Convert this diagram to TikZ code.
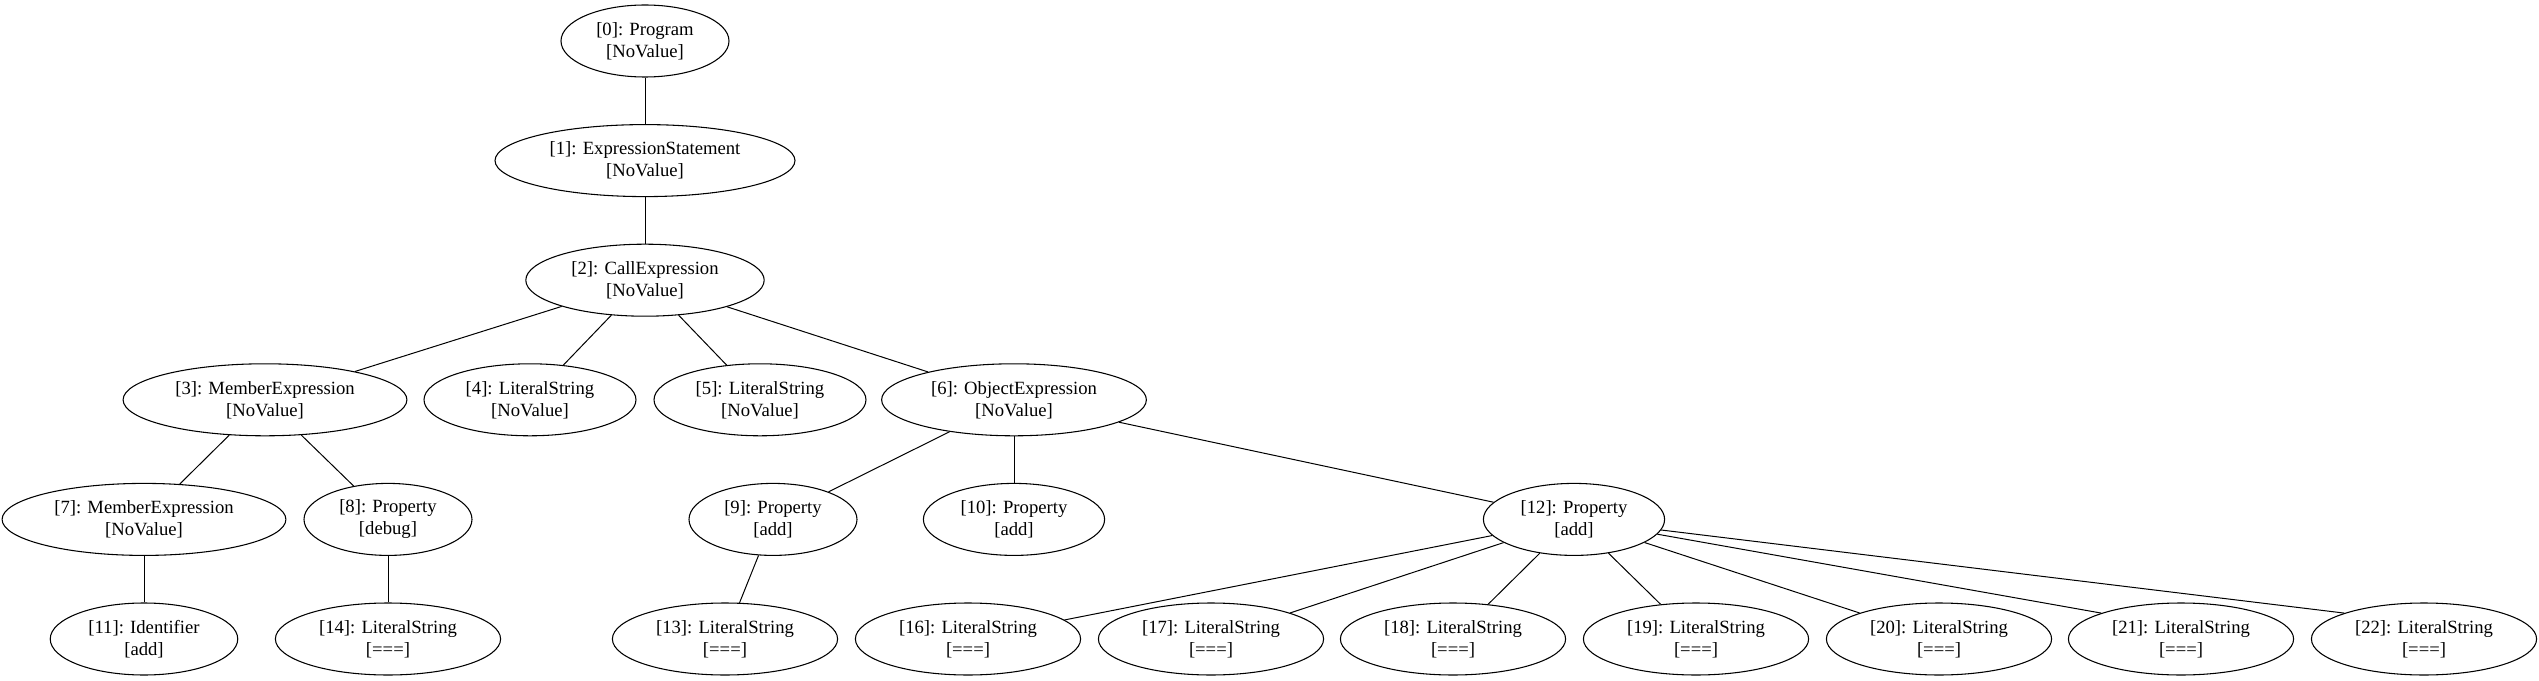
\documentclass[tikz,border=0pt]{standalone}
\usepackage{fontspec}
\setmainfont{Liberation Serif}
\usepackage{tikz}
\usetikzlibrary{shapes.geometric,positioning}

\tikzset{
  ast/.style={draw, ellipse, line width=0.8pt, align=center,
    inner xsep=8pt, inner ysep=3pt, minimum height=54pt,
    font=\fontsize{14pt}{16.5pt}\selectfont}
}

\begin{document}
\begin{tikzpicture}[node distance=89.7pt,on grid,line width=0.75pt]
   \useasboundingbox (0,0) rectangle (1904.25pt,-510.75pt);

   \node[ast] (n0) at (483.75pt,-30.75pt) {[0]: Program\\{}[NoValue]};
   \node[ast] (n1) [below=of n0] {[1]: ExpressionStatement\\{}[NoValue]};
   \node[ast] (n2) [below=of n1] {[2]: CallExpression\\{}[NoValue]};

   \node[ast] (n3) [below=of n2, xshift=-285pt] {[3]: MemberExpression\\{}[NoValue]};
   \node[ast] (n4) [below=of n2, xshift=-86.25pt] {[4]: LiteralString\\{}[NoValue]};
   \node[ast] (n5) [below=of n2, xshift=86.25pt] {[5]: LiteralString\\{}[NoValue]};
   \node[ast] (n6) [below=of n2, xshift=276.75pt] {[6]: ObjectExpression\\{}[NoValue]};

   \node[ast] (n7) [below=of n3, xshift=-90.75pt] {[7]: MemberExpression\\{}[NoValue]};
   \node[ast] (n8) [below=of n3, xshift=92.25pt] {[8]: Property\\{}[debug]};
   \node[ast] (n9) [below=of n6, xshift=-180.75pt] {[9]: Property\\{}[add]};
   \node[ast] (n10) [below=of n6] {[10]: Property\\{}[add]};
   \node[ast] (n12) [below=of n6, xshift=420pt] {[12]: Property\\{}[add]};

   \node[ast] (n11) [below=of n7] {[11]: Identifier\\{}[add]};
   \node[ast] (n14) [below=of n8] {[14]: LiteralString\\{}[===]};
   \node[ast] (n13) [below=of n9, xshift=-36pt] {[13]: LiteralString\\{}[===]};

   \node[ast] (n16) [below=of n12, xshift=-454.5pt] {[16]: LiteralString\\{}[===]};
   \node[ast] (n17) [below=of n12, xshift=-272.25pt] {[17]: LiteralString\\{}[===]};
   \node[ast] (n18) [below=of n12, xshift=-90.75pt] {[18]: LiteralString\\{}[===]};
   \node[ast] (n19) [below=of n12, xshift=91.5pt] {[19]: LiteralString\\{}[===]};
   \node[ast] (n20) [below=of n12, xshift=273.75pt] {[20]: LiteralString\\{}[===]};
   \node[ast] (n21) [below=of n12, xshift=455.25pt] {[21]: LiteralString\\{}[===]};
   \node[ast] (n22) [below=of n12, xshift=637.5pt] {[22]: LiteralString\\{}[===]};

   \path
   (n0) edge (n1)
   (n1) edge (n2)
   (n2) edge (n3)
        edge (n4)
        edge (n5)
        edge (n6)
   (n3) edge (n7)
        edge (n8)
   (n6) edge (n9)
        edge (n10)
        edge (n12)
   (n7) edge (n11)
   (n8) edge (n14)
   (n9) edge (n13)
   (n12) edge (n16)
        edge (n17)
        edge (n18)
        edge (n19)
        edge (n20)
        edge (n21.162)
        edge (n22.162);
\end{tikzpicture}
\end{document}
